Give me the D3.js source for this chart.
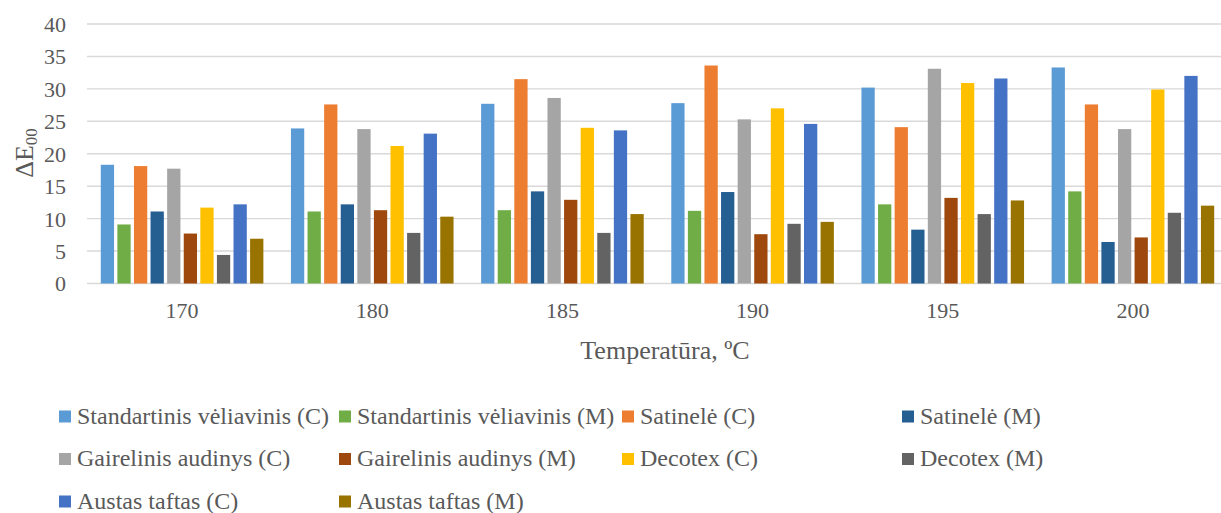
<!DOCTYPE html>
<html>
<head>
<meta charset="utf-8">
<script src="https://cdn.jsdelivr.net/npm/d3@7"></script>
<style>
  body { margin: 0; background: #fff; }
  svg text { font-family: "Liberation Serif", "Times New Roman", serif; fill: #595959; }
</style>
</head>
<body>
<svg id="chart" width="1221" height="513"></svg>
<script>
// DATA
const temperatures = ["170", "180", "185", "190", "195", "200"];
const seriesNames = [
  "Standartinis vėliavinis (C)", "Standartinis vėliavinis (M)",
  "Satinelė (C)", "Satinelė (M)",
  "Gairelinis audinys (C)", "Gairelinis audinys (M)",
  "Decotex (C)", "Decotex (M)",
  "Austas taftas (C)", "Austas taftas (M)"
];
const stdC = [18.3, 23.9, 27.7, 27.8, 30.2, 33.3];
const stdM = [9.1, 11.1, 11.3, 11.2, 12.2, 14.2];
const satC = [18.1, 27.6, 31.5, 33.6, 24.1, 27.6];
const satM = [11.1, 12.2, 14.2, 14.1, 8.3, 6.4];
const gaiC = [17.7, 23.8, 28.6, 25.3, 33.1, 23.8];
const gaiM = [7.7, 11.3, 12.9, 7.6, 13.2, 7.1];
const decC = [11.7, 21.2, 24.0, 27.0, 30.9, 29.9];
const decM = [4.4, 7.8, 7.8, 9.2, 10.7, 10.9];
const ausC = [12.2, 23.1, 23.6, 24.6, 31.6, 32.0];
const ausM = [6.9, 10.3, 10.7, 9.5, 12.8, 12.0];
const seriesValues = [stdC, stdM, satC, satM, gaiC, gaiM, decC, decM, ausC, ausM];
const yTicks = [0, 5, 10, 15, 20, 25, 30, 35, 40];

const colors = ["#5B9BD5", "#70AD47", "#ED7D31", "#255E91", "#A5A5A5",
                "#9E480E", "#FFC000", "#636363", "#4472C4", "#997300"];

//SETUP
const svg = d3.select("#chart");
const plot = { left: 87, right: 1228, top: 24, bottom: 283.5 };

var x0 = d3.scaleBand()
  .domain(temperatures)
  .range([plot.left, plot.right])
  .paddingInner(0.145)
  .paddingOuter(0.0725);

var x1 = d3.scaleBand()
  .domain(d3.range(seriesNames.length))
  .range([0, x0.bandwidth()])
  .paddingInner(0.2)
  .paddingOuter(0);

var yScale = d3.scaleLinear()
  .domain([0, 40])
  .range([plot.bottom, plot.top]);

// gridlines
svg.append("g")
  .selectAll("line")
  .data(yTicks)
  .enter()
  .append("line")
  .attr("x1", plot.left)
  .attr("x2", 1221)
  .attr("y1", d => yScale(d))
  .attr("y2", d => yScale(d))
  .attr("stroke", "#d9d9d9")
  .attr("stroke-width", 1.4);

// y axis
var yAxis = d3.axisLeft(yScale).tickValues(yTicks).tickSize(0).tickPadding(0);
svg.append("g")
  .attr("class", "y-axis")
  .attr("transform", "translate(66,0)")
  .call(yAxis)
  .call(g => g.select(".domain").remove())
  .selectAll("text")
  .attr("font-size", "22px")
  .attr("dy", "0.34em");

// x axis
var xAxis = d3.axisBottom(x0).tickSize(0).tickPadding(0);
svg.append("g")
  .attr("class", "x-axis")
  .attr("transform", `translate(0,${plot.bottom})`)
  .call(xAxis)
  .call(g => g.select(".domain").remove())
  .selectAll("text")
  .attr("font-size", "22px")
  .attr("dy", "0")
  .attr("y", 34);

// bars
var groups = svg.append("g")
  .selectAll("g")
  .data(temperatures)
  .enter()
  .append("g")
  .attr("transform", d => `translate(${x0(d)},0)`);

groups.selectAll("rect")
  .data((t, ti) => seriesValues.map((vals, si) => ({ si, v: vals[ti] })))
  .enter()
  .append("rect")
  .attr("x", d => x1(d.si))
  .attr("width", x1.bandwidth())
  .attr("y", d => yScale(d.v))
  .attr("height", d => yScale(0) - yScale(d.v))
  .attr("fill", d => colors[d.si]);

// axis titles
var yTitle = svg.append("text")
  .attr("transform", "translate(33,153) rotate(-90)")
  .attr("text-anchor", "middle")
  .attr("font-size", "26px");
yTitle.append("tspan").text("ΔE");
yTitle.append("tspan")
  .attr("font-size", "17px")
  .attr("dy", "4")
  .text("00");

svg.append("text")
  .attr("x", 665)
  .attr("y", 359)
  .attr("text-anchor", "middle")
  .attr("font-size", "26px")
  .text("Temperatūra, ºC");

// Legend
const legendCols = [59, 339, 622, 902];
const legendRows = [416.5, 459, 501.5];

var legend = svg.append("g")
  .selectAll("g")
  .data(seriesNames)
  .enter()
  .append("g")
  .attr("transform", (d, i) =>
    `translate(${legendCols[i % 4]},${legendRows[Math.floor(i / 4)]})`);

legend.append("rect")
  .attr("x", 0)
  .attr("y", -6)
  .attr("width", 12)
  .attr("height", 12)
  .attr("fill", (d, i) => colors[i]);

legend.append("text")
  .attr("x", 18)
  .attr("y", 7)
  .attr("font-size", "24px")
  .text(d => d);
</script>
</body>
</html>
